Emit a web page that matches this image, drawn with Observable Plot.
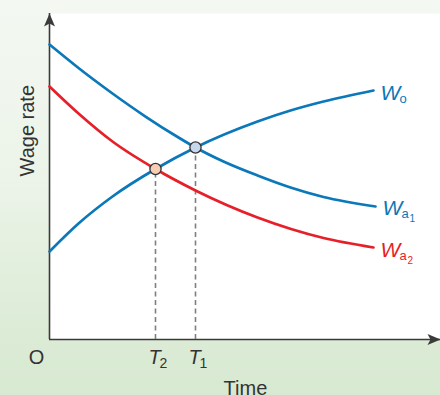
<!DOCTYPE html>
<html>
<head>
<meta charset="utf-8">
<script src="https://cdn.jsdelivr.net/npm/d3@7"></script>
<script src="https://cdn.jsdelivr.net/npm/@observablehq/plot@0.6"></script>
<style>
  html, body { margin: 0; padding: 0; }
  #chart {
    width: 440px; height: 395px; overflow: hidden;
    background: linear-gradient(to bottom, #f4f8f2 0%, #ecf4e9 45%, #dbebd5 85%, #d8e9d2 100%);
  }
</style>
</head>
<body>
<div id="chart"></div>
<script>
// ---- data ----
const seriesNames = ["Wo", "Wa1", "Wa2"];
const woX  = [0, 7.42, 16.11, 27.11, 37.34, 53.2, 61.64, 70.08, 82.86];
const woY  = [26.99, 35.58, 43.87, 52.30, 58.90, 66.87, 70.25, 73.01, 76.38];
const wa1X = [0, 7.42, 16.11, 24.55, 32.99, 37.34, 44.5, 53.2, 61.64, 70.08, 83.38];
const wa1Y = [90.49, 83.28, 75.46, 68.40, 61.96, 58.90, 54.60, 50.31, 46.63, 43.71, 40.80];
const wa2X = [0, 7.42, 16.11, 27.11, 37.34, 53.2, 70.08, 82.86];
const wa2Y = [77.61, 69.33, 60.74, 52.30, 45.71, 37.42, 31.13, 28.22];

const labelMain = ["W", "W", "W"];
const labelSub  = ["o", "a", "a"];
const labelSub2 = ["", "1", "2"];

const crossMain = ["T", "T"];
const crossSub  = ["2", "1"];
const crossX = [27.11, 37.34];
const crossY = [52.30, 58.90];

const axisLabelY = "Wage rate";
const axisLabelX = "Time";
const originLabel = "O";

// ---- build tables ----
const seriesXs = [woX, wa1X, wa2X];
const seriesYs = [woY, wa1Y, wa2Y];
const rows = [];
seriesNames.forEach((s, i) => seriesXs[i].forEach((x, j) => rows.push({series: s, x, y: seriesYs[i][j]})));
const ends = seriesNames.map((s, i) => ({
  series: s,
  x: seriesXs[i][seriesXs[i].length - 1],
  y: seriesYs[i][seriesYs[i].length - 1],
  main: labelMain[i], sub: labelSub[i], sub2: labelSub2[i]
}));
const crosses = crossX.map((x, i) => ({x, y: crossY[i], main: crossMain[i], sub: crossSub[i]}));

const BLUE = "#0b78b9", RED = "#e61f29", AX = "#3a3a3a";
const colorOf = {Wo: BLUE, Wa1: BLUE, Wa2: RED};
const pointFill = ["#f8cdb6", "#c6d8ec"];

const arrowHead = {
  draw(ctx) {
    ctx.moveTo(0, 0);
    ctx.lineTo(5.5, 13);
    ctx.lineTo(0, 10);
    ctx.lineTo(-5.5, 13);
    ctx.closePath();
  }
};

const FONT = "'Liberation Sans', Arial, sans-serif";

const chart = Plot.plot({
  width: 440,
  height: 395,
  marginLeft: 49,
  marginRight: 0,
  marginTop: 13,
  marginBottom: 56,
  x: {domain: [0, 100], axis: null},
  y: {domain: [0, 100], axis: null},
  style: {background: "transparent", fontFamily: FONT, overflow: "visible"},
  marks: [
    Plot.frame({fill: "white", stroke: "none"}),
    // axes
    Plot.ruleX([0], {y1: 0, y2: 100, stroke: AX, strokeWidth: 1.6}),
    Plot.ruleY([0], {x1: 0, x2: 100, stroke: AX, strokeWidth: 1.6}),
    Plot.dot([{x: 0, y: 100, r: 0}], {x: "x", y: "y", symbol: arrowHead, fill: AX, stroke: "none"}),
    Plot.dot([{x: 100, y: 0, r: 90}], {x: "x", y: "y", rotate: "r", symbol: arrowHead, fill: AX, stroke: "none"}),
    // dashed drop lines
    Plot.ruleX(crosses, {x: "x", y1: 0, y2: "y", stroke: "#7f7f7f", strokeWidth: 1.6, strokeDasharray: "5,3.5"}),
    // curves
    Plot.line(rows, {x: "x", y: "y", z: "series", stroke: d => colorOf[d.series], strokeWidth: 2.7, curve: "monotone-x"}),
    // intersection points
    Plot.dot(crosses, {x: "x", y: "y", r: 5.6, fill: (d, i) => pointFill[i], stroke: "#333", strokeWidth: 1.3}),
    // series labels
    Plot.text(ends, {x: "x", y: "y", text: "main", fill: d => colorOf[d.series], fontSize: 21, fontStyle: "italic", textAnchor: "start", lineAnchor: "bottom", dx: 7, dy: 9}),
    Plot.text(ends, {x: "x", y: "y", text: "sub", fill: d => colorOf[d.series], fontSize: 13, textAnchor: "start", lineAnchor: "bottom", dx: 26, dy: 12}),
    Plot.text(ends, {x: "x", y: "y", text: "sub2", fill: d => colorOf[d.series], fontSize: 10, textAnchor: "start", lineAnchor: "bottom", dx: 34, dy: 16}),
    // T labels
    Plot.text(crosses, {x: "x", y: 0, text: "main", fill: "#333", fontSize: 20, fontStyle: "italic", textAnchor: "middle", lineAnchor: "bottom", dx: -1, dy: 24}),
    Plot.text(crosses, {x: "x", y: 0, text: "sub", fill: "#333", fontSize: 14, textAnchor: "start", lineAnchor: "bottom", dx: 4, dy: 28}),
    // origin
    Plot.text([originLabel], {x: 0, y: 0, text: d => d, fill: "#333", fontSize: 20, textAnchor: "middle", lineAnchor: "bottom", dx: -13, dy: 24}),
    // axis titles
    Plot.text([axisLabelY], {frameAnchor: "left", text: d => d, rotate: -90, fill: "#333", fontSize: 20, dx: -22}),
    Plot.text([axisLabelX], {x: 50.1, frameAnchor: "bottom", text: d => d, fill: "#333", fontSize: 20, lineAnchor: "bottom", dy: 55})
  ]
});
document.getElementById("chart").appendChild(chart);
</script>
</body>
</html>
